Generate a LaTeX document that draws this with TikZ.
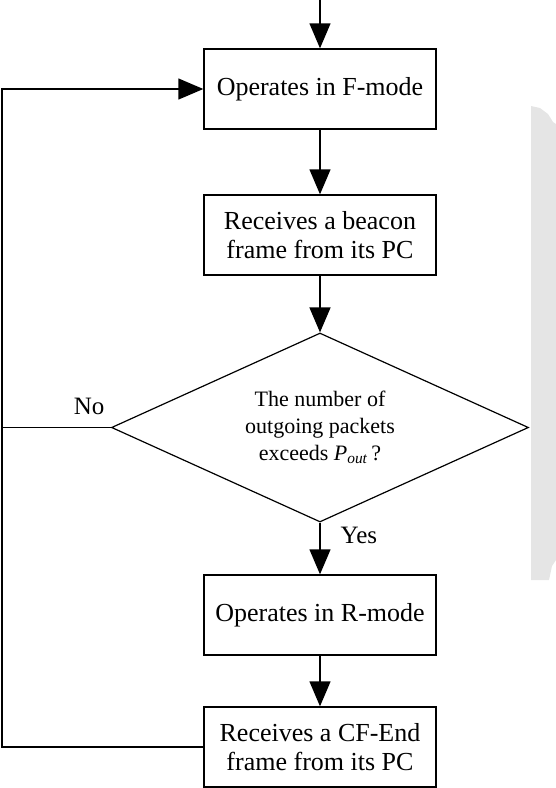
\documentclass[tikz,border=0pt]{standalone}
\usepackage{fontspec}
\setmainfont{Liberation Serif}
\usetikzlibrary{arrows.meta,shapes.geometric}

\tikzset{
  flowline/.style={line width=1.4pt, black},
  flowarrow/.style={flowline, -{Triangle[width=21pt,length=25pt]}},
  procbox/.style={draw, line width=1.4pt, rectangle, minimum width=232pt,
    minimum height=80pt, inner sep=0pt, align=center,
    font=\fontsize{26}{29}\selectfont},
  decision/.style={draw, line width=1.2pt, diamond, aspect=2.2,
    minimum width=417pt, minimum height=189pt, inner sep=0pt, align=center,
    font=\fontsize{22}{27}\selectfont},
  branchlabel/.style={font=\fontsize{25}{28}\selectfont, inner sep=0pt}
}

\begin{document}
\begin{tikzpicture}[x=1pt,y=-1pt]
  \useasboundingbox (0,0) rectangle (556,788);

  % light grey strip at the right edge
  \fill[gray!20] (531,106) -- (540,108) -- (548,114) -- (553,122) -- (556,124)
    -- (556,560) -- (552,566) -- (549,580) -- (531,580) -- cycle;

  % process steps
  \node[procbox] (fmode)  at (320,89)  {Operates in F-mode};
  \node[procbox] (beacon) at (320,235) {Receives a beacon\\frame from its PC};
  \node[decision] (check) at (320,427.5)
    {The number of\\outgoing packets\\exceeds \textit{P}\textsubscript{\textit{out}}\,?};
  \node[procbox] (rmode)  at (320,615) {Operates in R-mode};
  \node[procbox] (cfend)  at (320,747) {Receives a CF-End\\frame from its PC};

  % entry and loop-back points
  \coordinate (entry) at (320,0);
  \coordinate (loopx) at (2,0);

  % main flow
  \draw[flowarrow] (entry) -- (fmode.north);
  \draw[flowarrow] (fmode.south) -- (beacon.north);
  \draw[flowarrow] (beacon.south) -- (check.north);
  \draw[flowarrow] (check.south) -- node[branchlabel, right=20pt, pos=0.25] (yes) {Yes} (rmode.north);
  \draw[flowarrow] (rmode.south) -- (cfend.north);

  % return path to F-mode
  \draw[flowarrow] (cfend.west) -- (cfend.west -| loopx) |- (fmode.west);
  \draw[flowline] (check.west) -- node[branchlabel, above=12pt, pos=0.2] (no) {No} (check.west -| loopx);
\end{tikzpicture}
\end{document}
